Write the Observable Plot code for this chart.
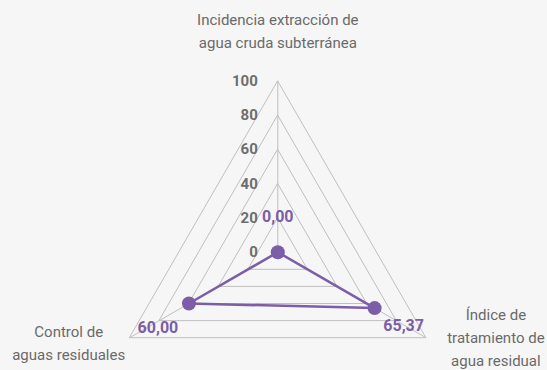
<!DOCTYPE html>
<html><head><meta charset="utf-8">
<script src="https://cdn.jsdelivr.net/npm/d3@7"></script>
<script src="https://cdn.jsdelivr.net/npm/@observablehq/plot@0.6"></script>
<style>
html,body{margin:0;padding:0;background:#f6f6f6;}
</style></head><body><div id="chart"></div>
<script>
const categories = ["Incidencia extracción de\nagua cruda subterránea", "Índice de\ntratamiento de\nagua residual", "Control de\naguas residuales"];
const values = [0, 65.37, 60.00];
const valueLabels = ["0,00", "65,37", "60,00"];
const ticks = [0, 20, 40, 60, 80, 100];

const angle = i => i * 2 * Math.PI / categories.length;
const pt = (r, i) => ({x: r * Math.sin(angle(i)), y: r * Math.cos(angle(i))});

const grid = ticks.filter(t => t > 0).flatMap(t => categories.map((c, i) => ({level: t, ...pt(t, i)})));
const spokes = categories.flatMap((c, i) => [{i, ...pt(0, i)}, {i, ...pt(100, i)}]);
const series = values.map((v, i) => ({v, label: valueLabels[i], i, ...pt(v, i)}));
const axisLabels = categories.map((c, i) => ({c, i, ...pt(100, i)}));
const tickData = ticks.map(t => ({t, x: 0, y: t}));

const cx = 277.3, cy = 251.7, R = 171;
const purple = "#7b5ea7";
const catOffsets = [[0, -52.5], [70, -2], [-61, 3.5]];
const valOffsets = [[0, -35], [29, 18], [-31, 24]];

const chart = Plot.plot({
  width: 547, height: 370, margin: 0,
  x: {domain: [-100, 100], range: [cx - R, cx + R], axis: null},
  y: {domain: [-100, 100], range: [cy + R, cy - R], axis: null},
  style: {background: "#f6f6f6", fontFamily: "Roboto, sans-serif"},
  marks: [
    Plot.line(grid, {x: "x", y: "y", z: "level", curve: "linear-closed", stroke: "#bfbfbf", strokeWidth: 1}),
    Plot.line(spokes, {x: "x", y: "y", z: "i", stroke: "#bfbfbf", strokeWidth: 1}),
    Plot.line(series, {x: "x", y: "y", curve: "linear-closed", stroke: purple, strokeWidth: 2.5}),
    Plot.dot(series, {x: "x", y: "y", r: 7, fill: purple}),
    Plot.text(tickData, {x: "x", y: "y", text: d => String(d.t), textAnchor: "end", dx: -20, fill: "#6e6e6e", fontWeight: "bold", fontSize: 15}),
    ...axisLabels.map((d, k) => Plot.text([d], {x: "x", y: "y", text: "c", dx: catOffsets[k][0], dy: catOffsets[k][1], fill: "#6a6a6a", fontSize: 15, lineHeight: 1.55})),
    ...series.map((d, k) => Plot.text([d], {x: "x", y: "y", text: "label", dx: valOffsets[k][0], dy: valOffsets[k][1], fill: purple, fontWeight: "bold", fontSize: 16}))
  ]
});
document.getElementById("chart").appendChild(chart);
</script></body></html>
